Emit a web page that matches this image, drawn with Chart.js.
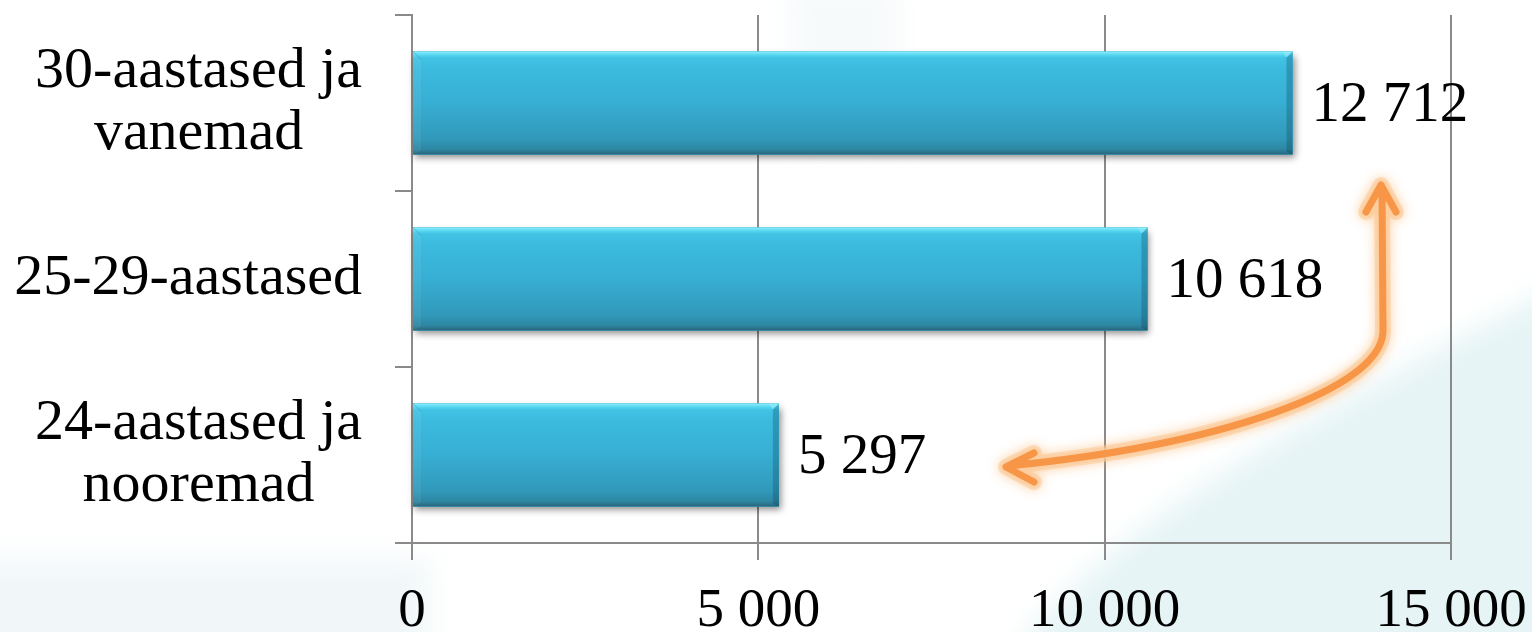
<!DOCTYPE html>
<html><head><meta charset="utf-8">
<script src="https://cdn.jsdelivr.net/npm/chart.js@4.4.0/dist/chart.umd.min.js"></script>
<style>html,body{margin:0;padding:0;background:#fff;overflow:hidden}canvas{display:block}</style>
</head><body>
<canvas id="c" width="1532" height="632"></canvas>
<script>
// ---- data ----
const categories = [["30-aastased ja", "vanemad"], "25-29-aastased", ["24-aastased ja", "nooremad"]];
const values = [12712, 10618, 5297];
const xTickValues = [0, 5000, 10000, 15000];
const xMin = 0;
const xMax = 15000;
const xStep = 5000;

function fmt(n) { return String(n).replace(/\B(?=(\d{3})+(?!\d))/g, ' '); }

const FONT = "'Liberation Serif', 'Times New Roman', serif";
const AXIS_COLOR = '#8a8a8a';

const backgroundPlugin = {
  id: 'bg',
  beforeDraw(chart) {
    const ctx = chart.ctx, w = chart.width, h = chart.height;
    ctx.save();
    ctx.fillStyle = '#ffffff';
    ctx.fillRect(0, 0, w, h);
    ctx.filter = 'blur(14px)';
    ctx.fillStyle = 'rgba(238,245,247,0.8)';
    ctx.fillRect(-40, 560, 470, 140);
    ctx.beginPath();
    ctx.moveTo(1000, h + 40);
    ctx.bezierCurveTo(1110, 520, 1300, 420, w + 40, 280);
    ctx.lineTo(w + 40, h + 40);
    ctx.closePath();
    ctx.fillStyle = 'rgba(224,241,242,0.8)';
    ctx.fill();
    ctx.fillStyle = 'rgba(244,248,249,0.7)';
    ctx.fillRect(790, -20, 110, 160);
    ctx.filter = 'none';
    ctx.restore();
  }
};

function barRect(el) {
  const L = Math.min(el.base, el.x), R = Math.max(el.base, el.x);
  const T = el.y - el.height / 2, B = el.y + el.height / 2;
  return { L, R, T, B };
}

const bevelBarsPlugin = {
  id: 'bevelBars',
  beforeDatasetsDraw(chart) {
    const ctx = chart.ctx;
    const meta = chart.getDatasetMeta(0);
    ctx.save();
    meta.data.forEach(el => {
      const { L, R, T, B } = barRect(el);
      ctx.shadowColor = 'rgba(0,0,0,0.45)';
      ctx.shadowBlur = 7;
      ctx.shadowOffsetX = 2;
      ctx.shadowOffsetY = 4;
      ctx.fillStyle = '#2f93b2';
      ctx.fillRect(L, T, R - L, B - T);
    });
    ctx.restore();
  },
  afterDatasetsDraw(chart) {
    const ctx = chart.ctx;
    const meta = chart.getDatasetMeta(0);
    ctx.save();
    meta.data.forEach(el => {
      const { L, R, T, B } = barRect(el);
      const H = B - T;
      const g = ctx.createLinearGradient(0, T, 0, B);
      g.addColorStop(0, '#8ff0fd');
      g.addColorStop(0.025, '#5fdcf5');
      g.addColorStop(0.06, '#42c4e6');
      g.addColorStop(0.15, '#3cbbdf');
      g.addColorStop(0.5, '#37aed3');
      g.addColorStop(0.85, '#3199ba');
      g.addColorStop(0.95, '#2d86a2');
      g.addColorStop(1, '#27677c');
      ctx.fillStyle = g;
      ctx.fillRect(L, T, R - L, H);
      const bw = 8;
      ctx.beginPath();
      ctx.moveTo(L, T); ctx.lineTo(L + bw, T + bw); ctx.lineTo(L + bw, B - bw / 2); ctx.lineTo(L, B);
      ctx.closePath();
      ctx.fillStyle = 'rgba(255,255,255,0.06)';
      ctx.fill();
      const rw = 6;
      ctx.beginPath();
      ctx.moveTo(R, T); ctx.lineTo(R - rw, T + rw); ctx.lineTo(R - rw, B - rw / 2); ctx.lineTo(R, B);
      ctx.closePath();
      ctx.fillStyle = 'rgba(10,60,80,0.28)';
      ctx.fill();
      ctx.beginPath();
      ctx.moveTo(R, T); ctx.lineTo(R - rw, T + rw); ctx.lineTo(R - rw - 4, T);
      ctx.closePath();
      ctx.fillStyle = 'rgba(150,235,250,0.6)';
      ctx.fill();
      ctx.beginPath();
      ctx.moveTo(L, T); ctx.lineTo(L + bw, T + bw);
      ctx.strokeStyle = 'rgba(40,120,150,0.35)';
      ctx.lineWidth = 1;
      ctx.stroke();
    });
    ctx.restore();
  }
};

// Category labels: each label block right-aligned to the axis, lines centred within the block
const categoryLabelPlugin = {
  id: 'categoryLabels',
  afterDraw(chart) {
    const ctx = chart.ctx;
    const yScale = chart.scales.y;
    const fontSize = 58, lineH = 62, gap = 50;
    ctx.save();
    ctx.font = fontSize + "px " + FONT;
    ctx.fillStyle = '#000';
    ctx.textAlign = 'center';
    ctx.textBaseline = 'middle';
    const rightEdge = yScale.right - gap;
    categories.forEach((lab, i) => {
      const lines = Array.isArray(lab) ? lab : [lab];
      const widest = Math.max(...lines.map(l => ctx.measureText(l).width));
      const cx = rightEdge - widest / 2;
      const cy = yScale.getPixelForTick(i);
      const y0 = cy - (lines.length - 1) * lineH / 2;
      lines.forEach((l, k) => ctx.fillText(l, cx, y0 + k * lineH));
    });
    ctx.restore();
  }
};

const valueLabelPlugin = {
  id: 'valueLabels',
  afterDraw(chart) {
    const ctx = chart.ctx;
    const meta = chart.getDatasetMeta(0);
    ctx.save();
    ctx.font = "57px " + FONT;
    ctx.fillStyle = '#000';
    ctx.textAlign = 'left';
    ctx.textBaseline = 'middle';
    meta.data.forEach((el, i) => {
      ctx.fillText(fmt(values[i]), el.x + 19, el.y + 3);
    });
    ctx.restore();
  }
};

const arrowPlugin = {
  id: 'arrow',
  afterDraw(chart) {
    const ctx = chart.ctx;
    function path() {
      ctx.beginPath();
      ctx.moveTo(1382, 188);
      ctx.lineTo(1383, 332);
      ctx.bezierCurveTo(1380, 390, 1220, 445, 1008, 466);
      ctx.moveTo(1366, 212); ctx.lineTo(1381, 185); ctx.lineTo(1396, 212);
      ctx.moveTo(1034, 453); ctx.lineTo(1006, 467); ctx.lineTo(1034, 482);
    }
    ctx.save();
    ctx.lineCap = 'round';
    ctx.lineJoin = 'round';
    ctx.shadowColor = 'rgba(250,170,90,0.9)';
    ctx.shadowBlur = 12;
    path();
    ctx.strokeStyle = 'rgba(252,200,150,0.55)';
    ctx.lineWidth = 16;
    ctx.stroke();
    ctx.shadowBlur = 0;
    ctx.shadowColor = 'transparent';
    path();
    ctx.strokeStyle = 'rgba(252,205,160,0.5)';
    ctx.lineWidth = 12;
    ctx.stroke();
    path();
    ctx.strokeStyle = '#f79646';
    ctx.lineWidth = 7;
    ctx.stroke();
    ctx.restore();
  }
};

function zeroPadding(scale) {
  scale.paddingTop = 0; scale.paddingBottom = 0;
  scale.paddingLeft = 0; scale.paddingRight = 0;
}

new Chart(document.getElementById('c'), {
  type: 'bar',
  data: {
    labels: categories,
    datasets: [{
      data: values,
      backgroundColor: '#37aed3',
      borderWidth: 0,
      barPercentage: 0.585,
      categoryPercentage: 1.0
    }]
  },
  options: {
    indexAxis: 'y',
    responsive: false,
    devicePixelRatio: 1,
    animation: false,
    events: [],
    layout: { padding: { top: 15, right: 81, left: 0, bottom: 0 } },
    plugins: { legend: { display: false }, tooltip: { enabled: false }, title: { display: false } },
    scales: {
      x: {
        type: 'linear',
        min: xMin,
        max: xMax,
        afterBuildTicks(scale) { scale.ticks = xTickValues.map(v => ({ value: v })); },
        afterFit(scale) { scale.height = 89; zeroPadding(scale); },
        ticks: {
          stepSize: xStep,
          color: '#000',
          font: { family: FONT, size: 55, lineHeight: 1.0 },
          padding: 24,
          maxRotation: 0,
          callback: (v) => fmt(v)
        },
        grid: { color: AXIS_COLOR, lineWidth: 2, tickLength: 17, drawOnChartArea: true, drawTicks: true },
        border: { color: AXIS_COLOR, width: 2 }
      },
      y: {
        afterFit(scale) { scale.width = 412; zeroPadding(scale); },
        ticks: { display: false },
        grid: { color: AXIS_COLOR, lineWidth: 2, tickLength: 17, drawOnChartArea: false, drawTicks: true, offset: true },
        border: { color: AXIS_COLOR, width: 2 }
      }
    }
  },
  plugins: [backgroundPlugin, bevelBarsPlugin, categoryLabelPlugin, valueLabelPlugin, arrowPlugin]
});
</script>
</body></html>
